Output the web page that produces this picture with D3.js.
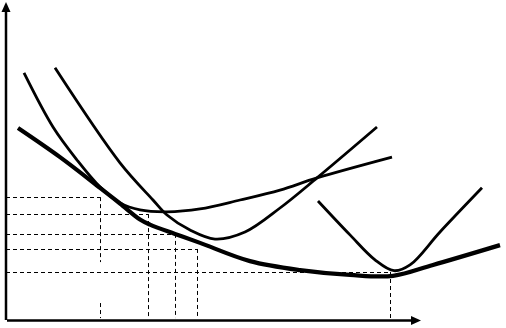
<!DOCTYPE html>
<html>
<head>
<meta charset="utf-8">
<script src="https://cdn.jsdelivr.net/npm/d3@7"></script>
<style>
  html, body { margin: 0; padding: 0; background: #fff; }
  svg { display: block; }
</style>
</head>
<body>
<div id="chart"></div>
<script>
// Long-run average cost as envelope of short-run curves (quantity vs cost, arbitrary units)

// long-run average cost (thick envelope)
const lracQ = [2.4, 10.8, 18.8, 22.8, 26.8, 28.8, 33.8, 38.8, 48.8, 58.8, 68.8, 77.4, 85.4, 98.8];
const lracC = [60, 50.9, 41.3, 36.4, 31.4, 29.8, 26.9, 24.1, 18.4, 15.6, 14.1, 13.8, 17.2, 23.4];

// short-run curves
const sac1Q = [3.6, 9.4, 14.2, 18.8, 22.8, 26.8, 32.2, 38.8, 46.8, 54.8, 62.2, 77.2];
const sac1C = [77.2, 60.3, 50, 41.6, 36.6, 34.4, 33.8, 34.7, 37.5, 40.6, 44.4, 50.9];

const sac2Q = [9.8, 22.8, 29.4, 32.2, 36.8, 41.8, 47.8, 54.8, 62.2, 74.2];
const sac2C = [78.8, 49.1, 37.5, 32.8, 28.1, 25.3, 27.5, 35, 44.4, 60.3];

const sac3Q = [62.4, 68.8, 73.8, 77.6, 80.8, 86.8, 95.2];
const sac3C = [37.2, 26.6, 18.8, 15.4, 17.2, 27.5, 41.3];

// dashed guides: quantity, cost level
const guideQ = [18.8, 28.4, 33.8, 38.2, 76.8];
const guideC = [38.4, 33.1, 26.9, 22.2, 15];

// axis extents
const axisQMax = 83;
const axisCMax = 99.4;

const width = 506;
const height = 328;

const x = d3.scaleLinear().domain([0, 100]).range([6, 506]);
const y = d3.scaleLinear().domain([0, 100]).range([320, 0]);

const svg = d3.select("#chart")
    .append("svg")
    .attr("width", width)
    .attr("height", height);

svg.append("rect")
    .attr("width", width)
    .attr("height", height)
    .attr("fill", "#fff");

// dashed guide lines
const guides = svg.append("g")
    .attr("stroke", "#000")
    .attr("stroke-width", 1)
    .attr("stroke-dasharray", "4,3")
    .attr("fill", "none");

guideQ.forEach((q, i) => {
    const c = guideC[i];
    const gx = Math.round(x(q)) + 0.5;
    guides.append("line")
        .attr("x1", x(0)).attr("x2", x(q))
        .attr("y1", Math.round(y(c)) + 0.5).attr("y2", Math.round(y(c)) + 0.5);
    if (i === 0) {
        // the first drop line is broken near the bottom
        guides.append("line")
            .attr("x1", gx).attr("x2", gx)
            .attr("y1", y(c)).attr("y2", y(18.1));
        guides.append("line")
            .attr("x1", gx).attr("x2", gx)
            .attr("y1", y(5.3)).attr("y2", y(0.6));
    } else {
        guides.append("line")
            .attr("x1", gx).attr("x2", gx)
            .attr("y1", y(c)).attr("y2", y(0.6));
    }
});

const line = d3.line()
    .x(d => x(d[0]))
    .y(d => y(d[1]))
    .curve(d3.curveCatmullRom.alpha(0.5));

const curves = [
    { q: sac1Q, c: sac1C, w: 2.8 },
    { q: sac2Q, c: sac2C, w: 2.8 },
    { q: sac3Q, c: sac3C, w: 2.8 },
    { q: lracQ, c: lracC, w: 4.2 }
];

svg.append("g")
    .selectAll("path")
    .data(curves)
    .join("path")
    .attr("d", d => line(d.q.map((q, i) => [q, d.c[i]])))
    .attr("fill", "none")
    .attr("stroke", "#000")
    .attr("stroke-width", d => d.w)
    .attr("stroke-linejoin", "round");

// axes with arrow heads
const axes = svg.append("g");
axes.append("line")
    .attr("x1", x(0)).attr("x2", x(0))
    .attr("y1", y(0)).attr("y2", y(axisCMax) + 8)
    .attr("stroke", "#000").attr("stroke-width", 2.5);
axes.append("path")
    .attr("d", `M${x(0)},${y(axisCMax)} L${x(0) - 4.5},${y(axisCMax) + 10} L${x(0) + 4.5},${y(axisCMax) + 10} Z`)
    .attr("fill", "#000");

axes.append("line")
    .attr("x1", x(0.2)).attr("x2", x(axisQMax) - 8)
    .attr("y1", y(0) + 0.5).attr("y2", y(0) + 0.5)
    .attr("stroke", "#000").attr("stroke-width", 2.5);
axes.append("path")
    .attr("d", `M${x(axisQMax)},${y(0) + 0.5} L${x(axisQMax) - 10},${y(0) - 4} L${x(axisQMax) - 10},${y(0) + 5} Z`)
    .attr("fill", "#000");
</script>
</body>
</html>
